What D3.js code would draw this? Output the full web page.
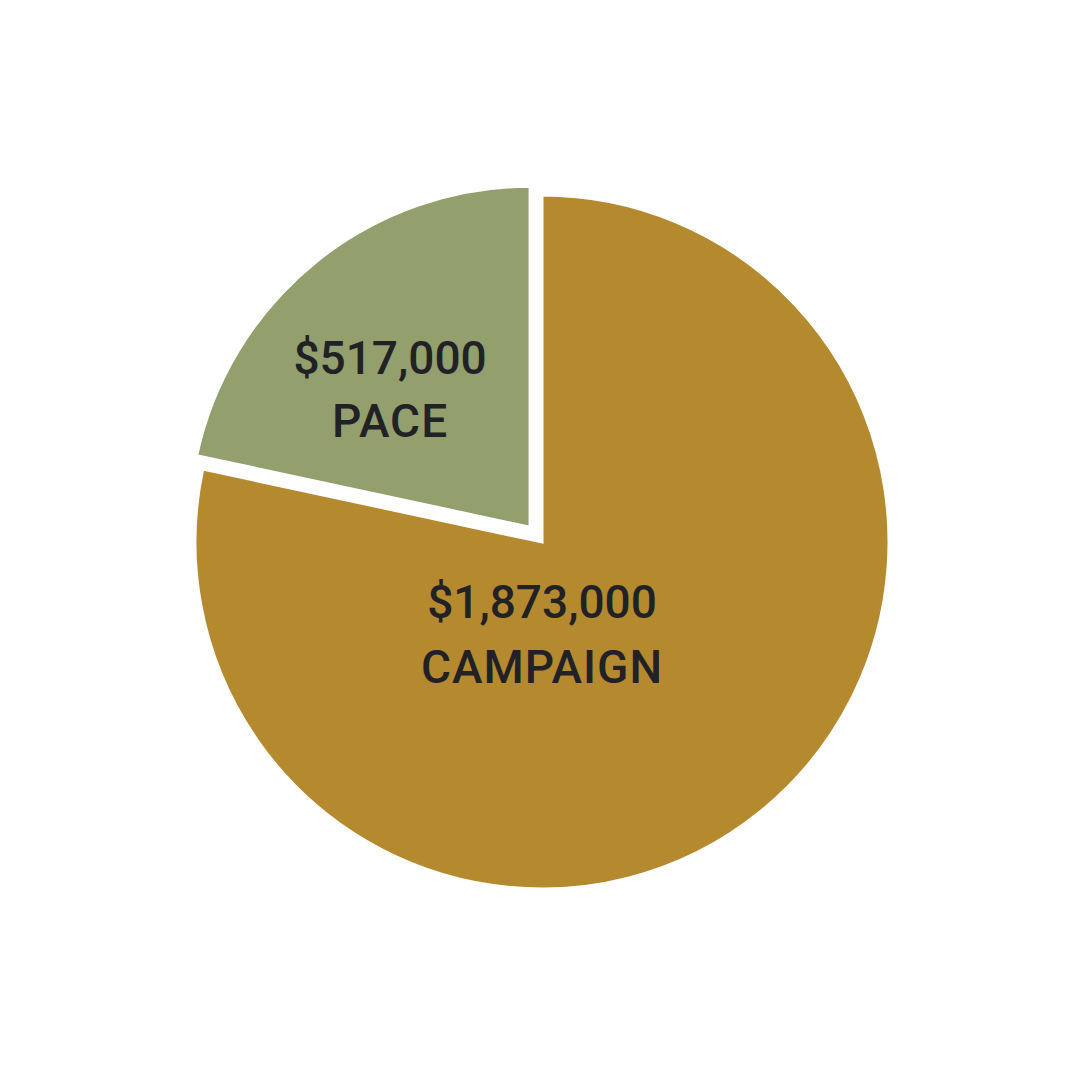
<!DOCTYPE html>
<html>
<head>
<meta charset="utf-8">
<script src="https://cdn.jsdelivr.net/npm/d3@7"></script>
<style>
  html, body { margin: 0; padding: 0; background: #ffffff; }
  svg { display: block; }
</style>
</head>
<body>
<svg id="chart" width="1080" height="1080"></svg>
<script>
// ---- data ----
const categories = ["CAMPAIGN", "PACE"];
const values = [1873000, 517000];
const valueLabels = ["$1,873,000", "$517,000"];
const colors = ["#B58A2F", "#93A06D"];

// ---- layout ----
const cx = 542, cy = 542;
const radius = 347;
const explodeDist = 19;
const labelFont = "Roboto, 'Liberation Sans', sans-serif";

const svg = d3.select("#chart");
const g = svg.append("g").attr("transform", `translate(${cx},${cy})`);

const data = categories.map((c, i) => ({ cat: c, value: values[i], label: valueLabels[i], color: colors[i] }));

const pie = d3.pie().value(d => d.value).sort(null).startAngle(0).endAngle(2 * Math.PI);
const arcs = pie(data);

const arcMain = d3.arc().innerRadius(0).outerRadius(radius);
const arcSmall = d3.arc().innerRadius(0).outerRadius(radius - 6);

function offset(d, i) {
  if (i === 0) return [0, 0];
  const mid = (d.startAngle + d.endAngle) / 2;
  return [Math.sin(mid) * explodeDist, -Math.cos(mid) * explodeDist];
}

const slices = g.selectAll("g.slice").data(arcs).join("g")
  .attr("class", "slice")
  .attr("transform", (d, i) => { const o = offset(d, i); return `translate(${o[0]},${o[1]})`; });

slices.append("path")
  .attr("d", (d, i) => i === 0 ? arcMain(d) : arcSmall(d))
  .attr("fill", d => d.data.color)
  .attr("stroke", "#ffffff")
  .attr("stroke-width", 3)
  .attr("stroke-linejoin", "miter");

// labels
const labelPos = [[0, 76], [-140, -153]];
const lineGap = [65, 63];
const fontSize = [46, 46];

slices.each(function(d, i) {
  const t = d3.select(this).append("text")
    .attr("text-anchor", "middle")
    .attr("font-family", labelFont)
    .attr("font-weight", 500)
    .attr("font-size", fontSize[i])
    .attr("fill", "#222226");
  t.append("tspan").attr("x", labelPos[i][0]).attr("y", labelPos[i][1]).text(d.data.label);
  t.append("tspan").attr("x", labelPos[i][0]).attr("y", labelPos[i][1] + lineGap[i])
    .attr("letter-spacing", 1).text(d.data.cat);
});
</script>
</body>
</html>
